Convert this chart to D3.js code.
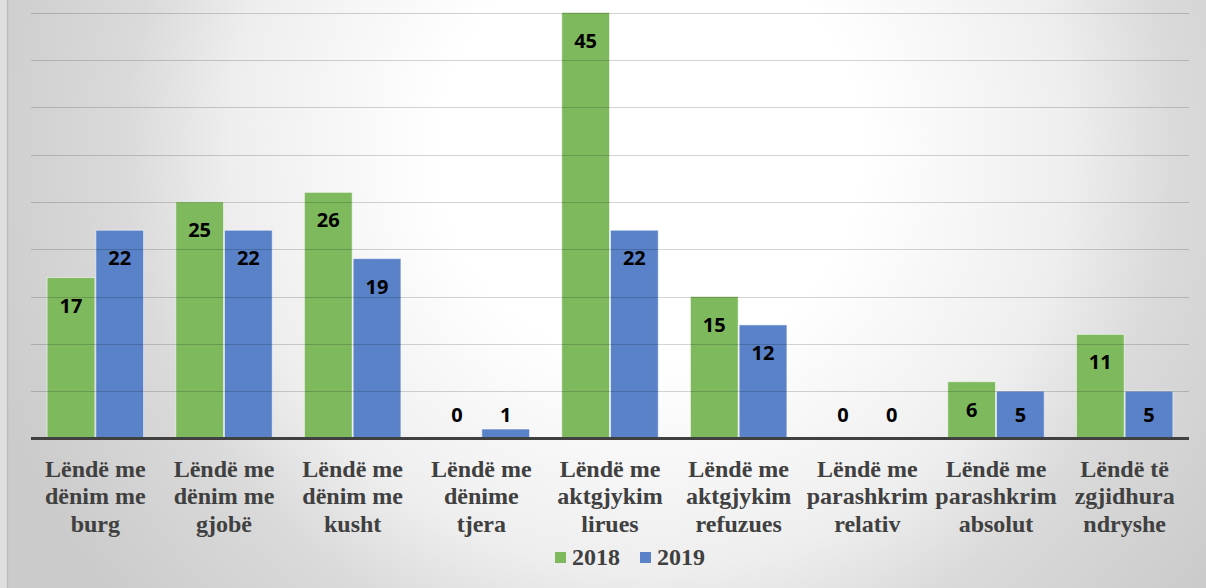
<!DOCTYPE html>
<html>
<head>
<meta charset="utf-8">
<script src="https://cdn.jsdelivr.net/npm/d3@7"></script>
</head>
<body style="margin:0">
<div id="chart"></div>
<script>
// kategorite (rreshtat e etiketes)
const categories = [
  ["Lëndë me", "dënim me", "burg"],
  ["Lëndë me", "dënim me", "gjobë"],
  ["Lëndë me", "dënim me", "kusht"],
  ["Lëndë me", "dënime", "tjera"],
  ["Lëndë me", "aktgjykim", "lirues"],
  ["Lëndë me", "aktgjykim", "refuzues"],
  ["Lëndë me", "parashkrim", "relativ"],
  ["Lëndë me", "parashkrim", "absolut"],
  ["Lëndë të", "zgjidhura", "ndryshe"]
];
const values2018 = [17, 25, 26, 0, 45, 15, 0, 6, 11];
const values2019 = [22, 22, 19, 1, 22, 12, 0, 5, 5];
const seriesNames = ["2018", "2019"];
const yTicks = [5, 10, 15, 20, 25, 30, 35, 40, 45];

const width = 1206, height = 588;
const margin = { left: 31, right: 17, top: 12.5, bottom: 150 };
const colors = ["#7EB95E", "#5A82C8"];

const svg = d3.select("#chart").append("svg")
  .attr("width", width)
  .attr("height", height)
  .style("display", "block");

// sfondi me gradient
const defs = svg.append("defs");
const grad = defs.append("radialGradient")
  .attr("id", "bg")
  .attr("gradientUnits", "userSpaceOnUse")
  .attr("cx", 650).attr("cy", 150).attr("r", 700);
[[0, "#ffffff"], [0.3, "#ffffff"], [0.6, "#eeeeee"], [0.75, "#dadada"], [1, "#cbcbcb"]]
  .forEach(s => grad.append("stop").attr("offset", s[0]).attr("stop-color", s[1]));

svg.append("rect").attr("width", width).attr("height", height).attr("fill", "#e0e0e0");
svg.append("rect").attr("x", 8).attr("width", width - 8).attr("height", height).attr("fill", "url(#bg)");
svg.append("line").attr("x1", 7.5).attr("x2", 7.5).attr("y1", 0).attr("y2", height)
  .attr("stroke", "#bdbdbd").attr("stroke-width", 1.5);

const x0 = d3.scaleBand()
  .domain(d3.range(categories.length))
  .range([margin.left, width - margin.right])
  .paddingInner(0.25)
  .paddingOuter(0.125);

const x1 = d3.scaleBand()
  .domain(d3.range(seriesNames.length))
  .range([0, x0.bandwidth()])
  .paddingInner(0.02);

const baseY = 438.5;
const y = d3.scaleLinear()
  .domain([0, 45])
  .range([baseY, margin.top]);

const data = categories.map((c, i) => ({ i, vals: [values2018[i], values2019[i]] }));

// shtyllat
const bars = [];
data.forEach(d => d.vals.forEach((v, s) => bars.push({ i: d.i, v, s })));

svg.append("g").selectAll("rect")
  .data(bars)
  .enter().append("rect")
  .attr("x", d => x0(d.i) + x1(d.s))
  .attr("width", x1.bandwidth())
  .attr("y", d => y(d.v))
  .attr("height", d => baseY - y(d.v))
  .attr("fill", d => colors[d.s])
  .attr("stroke", d => d.v > 0 ? "rgba(255,255,255,0.55)" : "none")
  .attr("stroke-width", 1);

// vijat e rrjetes (mbi shtylla, te tejdukshme)
svg.append("g").selectAll("line")
  .data(yTicks)
  .enter().append("line")
  .attr("x1", margin.left)
  .attr("x2", width - margin.right)
  .attr("y1", d => Math.round(y(d)) + 0.5)
  .attr("y2", d => Math.round(y(d)) + 0.5)
  .attr("stroke", "rgba(0,0,0,0.17)")
  .attr("stroke-width", 1);

// boshti X
svg.append("line")
  .attr("x1", margin.left).attr("x2", width - margin.right)
  .attr("y1", baseY).attr("y2", baseY)
  .attr("stroke", "#404040").attr("stroke-width", 3);

// etiketat e vlerave
svg.selectAll("text.val")
  .data(bars)
  .enter().append("text")
  .attr("class", "val")
  .attr("x", d => x0(d.i) + x1(d.s) + x1.bandwidth() / 2)
  .attr("y", d => Math.min(y(d.v) + 28, baseY - 24) + 7)
  .attr("text-anchor", "middle")
  .style("font-family", '"Open Sans"')
  .style("font-weight", "bold")
  .style("font-size", "20px")
  .attr("fill", "#000")
  .text(d => d.v);

// etiketat e kategorive, nje rresht per tekst
const catLines = [];
categories.forEach((lines, i) => lines.forEach((t, j) => catLines.push({ i, j, t })));

svg.selectAll("text.cat")
  .data(catLines)
  .enter().append("text")
  .attr("class", "cat")
  .attr("x", d => x0(d.i) + x0.bandwidth() / 2)
  .attr("y", d => baseY + 38 + d.j * 27.5)
  .attr("text-anchor", "middle")
  .style("font-family", '"Liberation Serif"')
  .style("font-weight", "bold")
  .style("font-size", "24px")
  .attr("fill", "#404040")
  .text(d => d.t);

// legjenda
svg.selectAll("rect.leg")
  .data(seriesNames)
  .enter().append("rect")
  .attr("class", "leg")
  .attr("x", (d, i) => 555 + i * 85).attr("y", 552)
  .attr("width", 11).attr("height", 11)
  .attr("fill", (d, i) => colors[i]);
svg.selectAll("text.leg")
  .data(seriesNames)
  .enter().append("text")
  .attr("class", "leg")
  .attr("x", (d, i) => 572 + i * 85).attr("y", 565)
  .style("font-family", '"Liberation Serif"')
  .style("font-weight", "bold")
  .style("font-size", "24px")
  .attr("fill", "#404040")
  .text(d => d);
</script>
</body>
</html>
